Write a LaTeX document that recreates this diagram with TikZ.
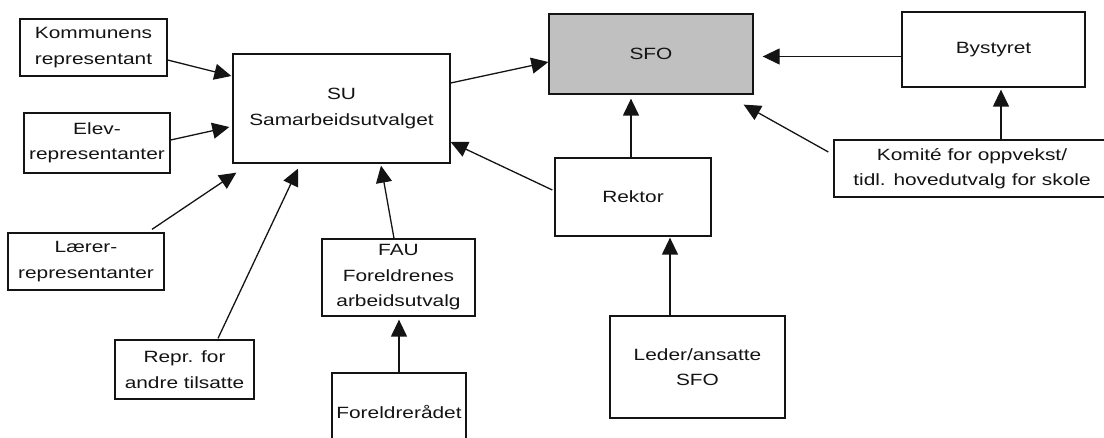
\documentclass[tikz,border=0pt]{standalone}
\usepackage{fontspec}
\setmainfont{Liberation Sans}[FakeStretch=1.28]
\usetikzlibrary{arrows.meta}
\definecolor{ink}{HTML}{141414}
\definecolor{shade}{HTML}{C0C0C0}
\begin{document}
\begin{tikzpicture}[x=1pt,y=-1pt,
  box/.style={draw=ink, line width=1.3pt, fill=white, inner sep=0pt, align=center,
              font=\fontsize{16.3}{25.5}\selectfont, text=ink},
  arr/.style={draw=ink, line width=1.3pt, -{Triangle[length=17pt,width=16pt]}}]
\useasboundingbox (0,0) rectangle (1104,438);

% organisational units
\node[box, minimum width=147pt, minimum height=57pt] (kom) at (93.5,47.5) {Kommunens\\representant};
\node[box, minimum width=146pt, minimum height=60pt] (elev) at (97,143) {Elev-\\representanter};
\node[box, minimum width=156pt, minimum height=57pt] (laerer) at (86,261.5) {Lærer-\\representanter};
\node[box, minimum width=139pt, minimum height=59pt] (repr) at (184.5,369.5) {Repr. for\\andre tilsatte};
\node[box, minimum width=217pt, minimum height=109pt] (su) at (341.5,108.5) {SU\\Samarbeidsutvalget};
\node[box, minimum width=153pt, minimum height=77pt] (fau) at (398.5,277.5) {FAU\\Foreldrenes\\arbeidsutvalg};
\node[box, minimum width=134pt, minimum height=78pt] (forel) at (399,412) {Foreldrerådet};
\node[box, fill=shade, minimum width=204pt, minimum height=80pt] (sfo) at (651,54) {SFO};
\node[box, minimum width=156pt, minimum height=78pt] (rektor) at (633,197) {Rektor};
\node[box, minimum width=175pt, minimum height=102pt] (leder) at (697.5,367) {Leder/ansatte\\SFO};
\node[box, minimum width=183pt, minimum height=75pt] (by) at (993.5,49.5) {Bystyret};
\node[box, minimum width=276pt, minimum height=57pt] (komite) at (972,168.5) {Komité for oppvekst/\\tidl. hovedutvalg for skole};

% reporting lines
\draw[arr] ([yshift=-12.5pt]kom.east) -- ([xshift=-1pt,yshift=32.5pt]su.west);
\draw[arr] ([yshift=3pt]elev.east) -- ([xshift=-3pt,yshift=-18.5pt]su.west);
\draw[arr] ([xshift=66pt,yshift=3pt]laerer.north) -- ([xshift=4pt,yshift=-9pt]su.south west);
\draw[arr] ([xshift=33.5pt,yshift=1pt]repr.north) -- ([xshift=-43.5pt,yshift=-5pt]su.south);
\draw[arr] ([xshift=-4.5pt]fau.north) -- ([xshift=39.5pt,yshift=-2pt]su.south);
\draw[arr, shorten >=3pt] (forel.north) -- (forel.north |- fau.south);
\draw[arr] ([yshift=25.5pt]su.east) -- ([yshift=-8pt]sfo.west);
\draw[arr] ([xshift=-2pt,yshift=7pt]rektor.west) -- ([yshift=-33.5pt]su.east);
\draw[arr, shorten >=4pt] ([xshift=-2pt]rektor.north) -- ([xshift=-2pt]rektor.north |- sfo.south);
\draw[arr, shorten >=1pt] ([xshift=-27.5pt]leder.north) -- ([xshift=-27.5pt]leder.north |- rektor.south);
\draw[arr, shorten >=9pt] ([yshift=-7pt]by.west) -- ([yshift=-7pt]by.west -| sfo.east);
\draw[arr, shorten >=2pt] ([xshift=29pt]komite.north) -- ([xshift=29pt]komite.north |- by.south);
\draw[arr] ([xshift=-5pt,yshift=16.5pt]komite.west) -- ([xshift=-10pt,yshift=-10pt]sfo.south east);
\end{tikzpicture}
\end{document}
